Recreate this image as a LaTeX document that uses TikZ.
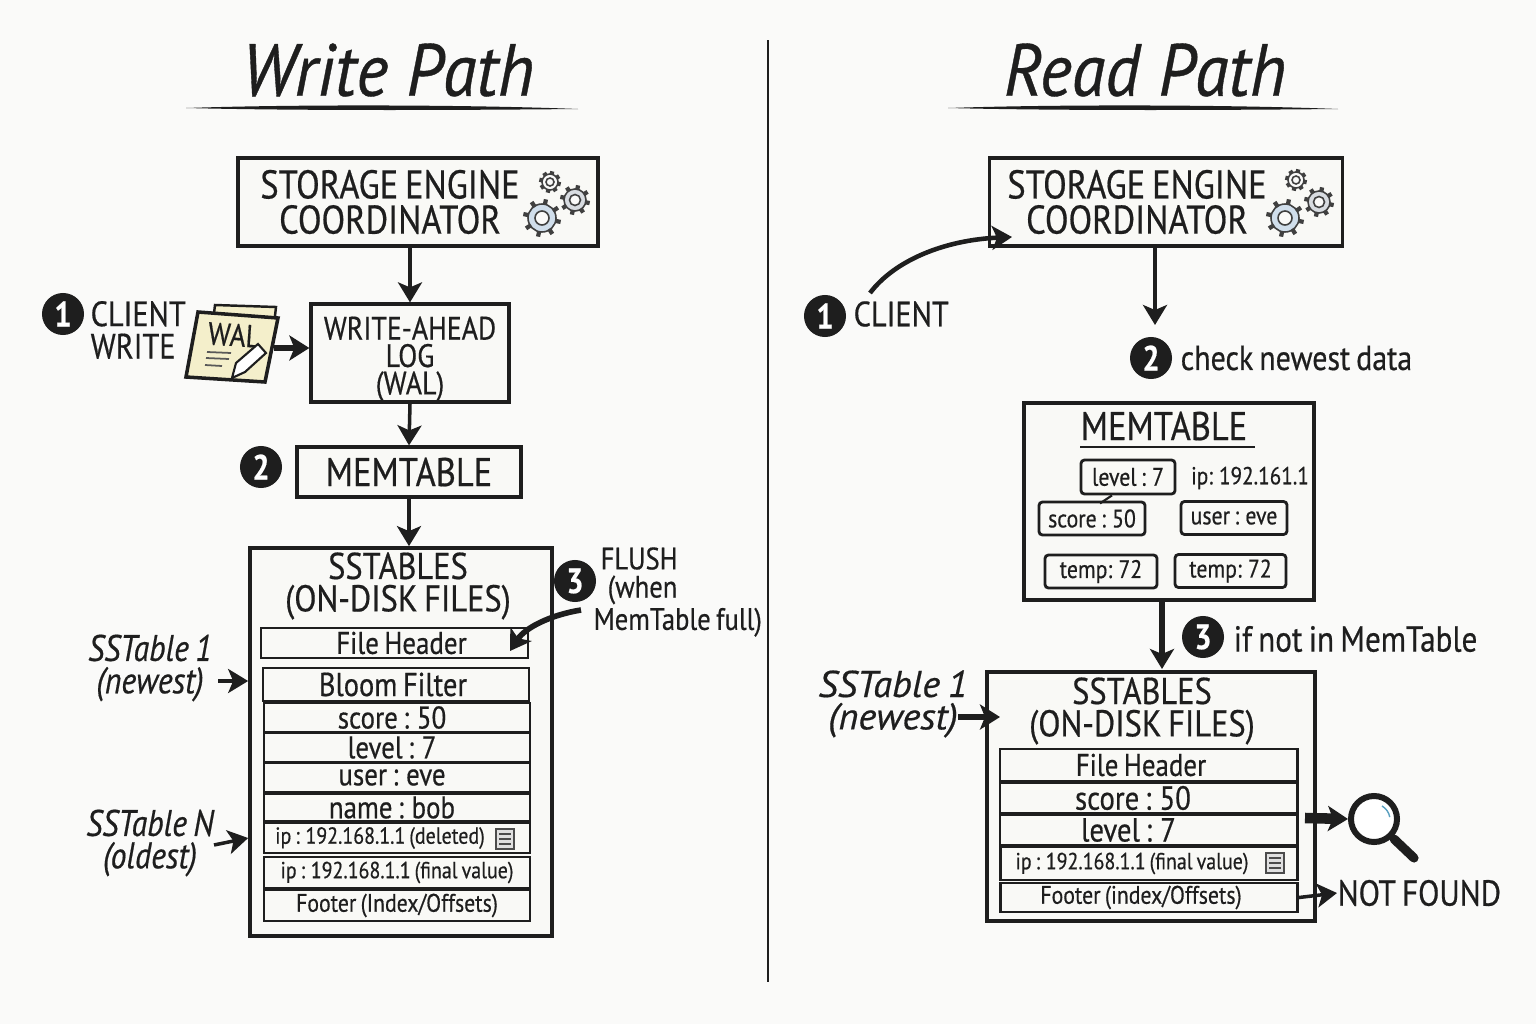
\documentclass[tikz,border=0pt]{standalone}
\usepackage{fontspec}
\setmainfont[FakeStretch=0.86,FakeBold=0.5,WordSpace=0.75]{PT Sans}
\newfontfamily\titlefam[FakeStretch=0.93,FakeBold=0.5]{PT Sans}
\newfontfamily\headfam[FakeStretch=0.87,FakeBold=0.5,WordSpace=0.75]{PT Sans}
\newfontfamily\widefam[FakeStretch=1.03,FakeBold=0.5,WordSpace=0.75]{PT Sans}
\usepackage{xcolor}
\usetikzlibrary{arrows.meta}
\definecolor{inkc}{HTML}{1E1E1E}
\definecolor{paperc}{HTML}{FAFAF9}
\definecolor{boxc}{HTML}{F9F9F6}
\definecolor{notec}{HTML}{F4EFCB}
\definecolor{gearb}{HTML}{D0DEEB}
\definecolor{gearm}{HTML}{D8DCE1}
\definecolor{lensc}{HTML}{5AA0C0}
\newcommand{\titlefont}{\titlefam\fontsize{21}{24}\selectfont\itshape}
\newcommand{\bigfont}{\fontsize{11.4}{10}\selectfont}
\newcommand{\headfont}{\headfam\fontsize{10.6}{9.2}\selectfont}
\newcommand{\rowfont}{\fontsize{8.9}{9}\selectfont}
\newcommand{\readrow}{\fontsize{9.5}{9}\selectfont}
\newcommand{\chipfont}{\fontsize{7.2}{9}\selectfont}
\newcommand{\labfont}{\fontsize{10}{9.2}\selectfont}
\newcommand{\smallrow}{\fontsize{6.6}{9}\selectfont}
\newcommand{\footfont}{\fontsize{7.2}{9}\selectfont}
\newcommand{\gearat}[4]{%
  \foreach \a in {0,45,...,315}{\draw[geartooth] (#1,#2) ++(\a+12:#3) -- ++(\a+12:#3*0.36);}
  \draw[gearline,fill=#4] (#1,#2) circle (#3);
  \draw[gearline,fill=paperc] (#1,#2) circle (#3*0.5);
}
\newcommand{\docat}[2]{%
  \draw[docline,fill=black!12] (#1-9,#2-10) rectangle (#1+9,#2+10);
  \draw[docline] (#1-6,#2-5) -- (#1+6,#2-5) (#1-6,#2) -- (#1+6,#2) (#1-6,#2+5) -- (#1+6,#2+5);
}
\newcommand{\penrule}[3]{%
  \fill[inkc] (#1,#3) .. controls (#1+120,#3-4) and (#2-100,#3-3) .. (#2,#3+1) .. controls (#2-100,#3+2) and (#1+120,#3+3) .. (#1,#3);
}
\tikzset{
  box/.style={draw=inkc, fill=boxc, line width=0.9pt, inner sep=0pt, align=flush center, text=inkc},
  tallbox/.style={box, line width=1pt},
  row/.style={box, line width=0.8pt, minimum width=2.66cm, font=\rowfont, text width=2.6cm},
  rrow/.style={row, minimum width=2.97cm, text width=2.9cm, font=\readrow},
  chip/.style={box, line width=0.8pt, rounded corners=1pt, font=\chipfont},
  lab/.style={inner sep=0pt, text=inkc, font=\labfont, align=flush center},
  labl/.style={lab, align=flush left, anchor=west},
  head/.style={lab, font=\headfont},
  stepdot/.style={circle, fill=inkc, text=white, inner sep=0pt, minimum size=0.42cm, font=\fontsize{10}{10}\selectfont\bfseries},
  flow/.style={draw=inkc, line width=1pt, -{Stealth[length=0.2cm, width=0.24cm, inset=0.05cm]}},
  fatflow/.style={draw=inkc, line width=1.6pt, -{Stealth[length=0.2cm, width=0.25cm, inset=0.05cm]}},
  gearline/.style={draw=black!75, line width=0.45pt},
  geartooth/.style={draw=black!75, line width=1.2pt},
  docline/.style={draw=black!70, line width=0.35pt},
}
\begin{document}
\begin{tikzpicture}[x=0.01cm, y=-0.01cm]
\useasboundingbox (0,0) rectangle (1536,1024);
\fill[paperc] (0,0) rectangle (1536,1024);
\draw[draw=inkc, line width=0.7pt] (768,40) -- (768,982);
\node[lab, font=\titlefont] (wtitle) at (388,70) {Write Path};
\node[lab, font=\titlefont] (rtitle) at (1145,70) {Read Path};
\penrule{186}{578}{108}
\penrule{948}{1338}{108}
\node[tallbox, minimum width=3.6cm, minimum height=0.88cm, text width=3.5cm, font=\bigfont] (wcoord) at (418,202) {\hspace*{-0.56cm}STORAGE ENGINE\\\hspace*{-0.56cm}COORDINATOR};
\gearat{550}{182}{8}{paperc}
\gearat{575}{200}{11}{gearm}
\gearat{542}{218}{14}{gearb}
\node[box, minimum width=1.98cm, minimum height=0.98cm, font=\fontsize{9.2}{7.8}\selectfont] (wwal) at (410,353) {\rule{0pt}{0.35cm}WRITE-AHEAD\\LOG\\(WAL)};
\node[box, minimum width=2.24cm, minimum height=0.50cm, font=\bigfont] (wmem) at (409,472) {MEMTABLE};
\node[stepdot] (wone) at (63,314) {1};
\node[labl] (wclient) at (90,330) {CLIENT\\WRITE};
\node[stepdot] (wtwo) at (261,467) {2};
\draw[draw=inkc, fill=notec, line width=0.7pt] (215,305) -- (276,307) -- (274,325) -- (213,322) -- cycle;
\draw[draw=inkc, fill=notec, line width=1pt] (198,312) -- (278,318) -- (265,382) -- (186,377) -- cycle;
\node[lab, font=\fontsize{9}{9}\selectfont, rotate=-4] (wnote) at (234,335) {WAL};
\draw[draw=black!65, line width=0.5pt] (207,352) -- (231,353) (206,358) -- (229,359) (205,365) -- (222,366);
\draw[draw=inkc, fill=white, line width=0.6pt] (232,378) -- (236,363) -- (258,344) -- (266,353) -- (245,372) -- cycle;
\coordinate (wnoteout) at (274,348);
\draw[fatflow] (wnoteout) -- (wwal.west |- wnoteout);
\draw[flow] (wcoord.south -| wwal) -- (wwal.north);
\draw[flow] (wwal.south) -- (wmem.north);
\node[tallbox, minimum width=3.02cm, minimum height=3.88cm] (wsst) at (401,742) {};
\draw[flow] (wmem.south) -- (wsst.north -| wmem.south);
\node[head] (wsshead) at (398,586) {SSTABLES\\(ON-DISK FILES)};
\node[row, minimum width=2.67cm, minimum height=0.30cm] (wfile) at (394.5,643) {\hspace*{0.14cm}File Header};
\node[row, minimum height=0.33cm, font=\fontsize{9.4}{9}\selectfont] (wbloom) at (396,684.5) {\hspace*{-0.06cm}Bloom Filter};
\node[row, minimum height=0.29cm] (wscore) at (397,717.5) {\hspace*{-0.1cm}score : 50};
\node[row, minimum height=0.29cm] (wlevel) at (397,747.5) {\hspace*{-0.1cm}level : 7};
\node[row, minimum height=0.29cm] (wuser) at (397,777.5) {\hspace*{-0.1cm}user : eve};
\node[row, minimum height=0.27cm] (wname) at (397,807.5) {\hspace*{-0.1cm}name : bob};
\node[row, minimum height=0.30cm, font=\smallrow] (wdel) at (397,838) {\hspace*{-0.34cm}ip : 192.168.1.1 (deleted)};
\node[row, minimum height=0.31cm, font=\smallrow] (wfinal) at (397,872.5) {ip : 192.168.1.1 (final value)};
\node[row, minimum height=0.31cm, font=\footfont] (wfoot) at (397,905.5) {Footer (Index/Offsets)};
\docat{505}{839}
\node[lab, font=\fontsize{10.5}{9.2}\selectfont] (wnew) at (150,668) {\itshape SSTable 1\\\itshape (newest)};
\node[lab, font=\fontsize{10.5}{9.2}\selectfont] (wold) at (150,843) {\itshape SSTable N\\\itshape (oldest)};
\coordinate (wnewout) at (218,681);
\coordinate (woldout) at (214,845);
\draw[flow] (wnewout) -- (wsst.west |- wnewout);
\draw[flow] (woldout) -- (wdel.west -| wsst.west);
\node[stepdot] (wthree) at (575,581) {3};
\node[lab, anchor=west, align=flush left, font=\fontsize{8.8}{8}\selectfont] (wflush) at (593,592) {\hspace*{0.07cm}FLUSH\\\hspace*{0.14cm}(when\\MemTable full)};
\coordinate (wfout) at (581,610);
\coordinate (wfin) at (510,651);
\draw[fatflow] (wfout) .. controls (550,615) and (525,628) .. (wfin);
\node[tallbox, minimum width=3.53cm, minimum height=0.88cm, text width=3.4cm, font=\bigfont] (rcoord) at (1166,202) {\hspace*{-0.58cm}STORAGE ENGINE\\\hspace*{-0.58cm}COORDINATOR};
\gearat{1296}{180}{8}{paperc}
\gearat{1319}{202}{11}{gearm}
\gearat{1285}{218}{14}{gearb}
\node[stepdot] (rone) at (825,316) {1};
\node[lab, anchor=west] (rclient) at (853,314) {CLIENT};
\coordinate (rcin) at (1012,237);
\coordinate (rcout) at (870,293);
\draw[flow, line width=1.3pt] (rcout) .. controls (895,260) and (945,240) .. (rcin);
\coordinate (rcdown) at (1155,325);
\draw[flow, line width=1.2pt] (rcoord.south -| rcdown) -- (rcdown);
\node[stepdot] (rtwo) at (1151,358) {2};
\node[lab, anchor=west, font=\fontsize{9.9}{11}\selectfont] (rchk) at (1180,358) {check newest data};
\node[tallbox, minimum width=2.90cm, minimum height=1.97cm] (rmem) at (1169,501.5) {};
\node[lab, font=\bigfont] (rmemhead) at (1164,426) {MEMTABLE};
\draw[draw=inkc, line width=0.6pt] (1080,447) -- (1255,447);
\node[chip, minimum width=0.94cm, minimum height=0.34cm] (rlevel) at (1128,477) {level : 7};
\node[lab, font=\fontsize{7}{9}\selectfont] (rip) at (1250,478) {ip: 192.161.1};
\node[chip, minimum width=1.06cm, minimum height=0.33cm] (rscore) at (1092,518.5) {score : 50};
\node[chip, minimum width=1.06cm, minimum height=0.33cm] (ruser) at (1234,518) {user : eve};
\node[chip, minimum width=1.12cm, minimum height=0.33cm] (rtemp) at (1101,571.5) {temp: 72};
\node[chip, minimum width=1.11cm, minimum height=0.33cm] (rtempb) at (1230.5,571) {temp: 72};
\draw[draw=inkc, line width=0.6pt] (rlevel.south) ++(-16,0) -- ++(-12,8);
\node[tallbox, minimum width=3.28cm, minimum height=2.49cm] (rsst) at (1151,796.5) {};
\coordinate (rsin) at (1162,669);
\draw[flow, line width=1.5pt] (rmem.south -| rsin) -- (rsin);
\node[stepdot] (rthree) at (1203,637) {3};
\node[lab, anchor=west, font=\fontsize{10.3}{11}\selectfont] (rnot) at (1233,639) {if not in MemTable};
\node[head] (rsshead) at (1142,711) {SSTABLES\\(ON-DISK FILES)};
\node[rrow, minimum height=0.32cm, font=\rowfont] (rfile) at (1148.5,765) {\hspace*{-0.15cm}File Header};
\node[rrow, minimum height=0.30cm] (rscorb) at (1148.5,798) {\hspace*{-0.31cm}score : 50};
\node[rrow, minimum height=0.30cm] (rlevb) at (1148.5,830) {\hspace*{-0.4cm}level : 7};
\node[rrow, minimum height=0.33cm, font=\smallrow] (rfin) at (1149,863.5) {\hspace*{-0.34cm}ip : 192.168.1.1 (final value)};
\node[rrow, minimum height=0.29cm, font=\footfont] (rfoot) at (1149,897.5) {\hspace*{-0.16cm}Footer (index/Offsets)};
\docat{1275}{863}
\node[lab, font=\widefam\fontsize{10.6}{9.2}\selectfont] (rnew) at (893,704) {\itshape SSTable 1\\\itshape (newest)};
\coordinate (rnewout) at (958,717);
\draw[fatflow] (rnewout) -- (1000,717);
\node[circle, draw=inkc, fill=white, line width=1.7pt, minimum size=0.46cm, inner sep=0pt] (rlens) at (1374,819) {};
\draw[draw=lensc, line width=0.4pt] (1382,806) arc (-60:-10:16);
\draw[draw=inkc, line width=2.6pt, line cap=round] (1394,839) -- (1414,858);
\draw[fatflow, line width=3pt] (1305,818) -- (rlens.west);
\node[lab, anchor=west, font=\fontsize{10.3}{11}\selectfont] (rnf) at (1337,893) {NOT FOUND};
\draw[flow] (rfoot.east) -- (rnf.west);
\end{tikzpicture}
\end{document}
